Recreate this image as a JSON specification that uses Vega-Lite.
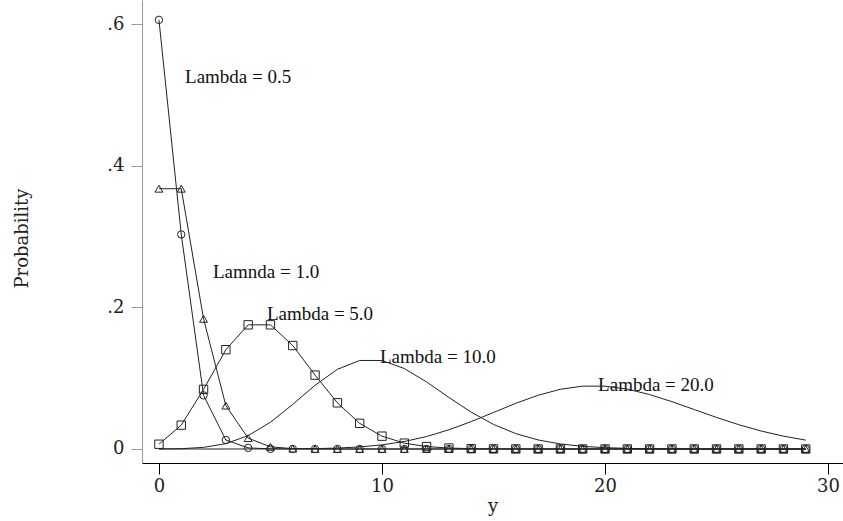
{
  "$schema": "https://vega.github.io/schema/vega-lite/v6.json",
  "width": 701,
  "height": 463,
  "autosize": {"type": "none"},
  "padding": {"left": 142, "top": 0, "right": 0, "bottom": 58},
  "background": "white",
  "view": {"stroke": null},
  "config": {
    "axis": {"grid": false, "labelFont": "DejaVu Serif", "titleFont": "DejaVu Serif", "labelFontSize": 18, "titleFontSize": 18, "titleFontWeight": "normal", "labelColor": "#222", "titleColor": "#222"}
  },
  "datasets": {
    "pois": [
      {"y": 0, "l05": 0.606531, "l1": 0.367879, "l5": 0.006738, "l10": 0.0000454, "l20": 0},
      {"y": 1, "l05": 0.303265, "l1": 0.367879, "l5": 0.033690, "l10": 0.000454, "l20": 0},
      {"y": 2, "l05": 0.075816, "l1": 0.183940, "l5": 0.084224, "l10": 0.002270, "l20": 0},
      {"y": 3, "l05": 0.012636, "l1": 0.061313, "l5": 0.140374, "l10": 0.007567, "l20": 0.000003},
      {"y": 4, "l05": 0.001580, "l1": 0.015328, "l5": 0.175467, "l10": 0.018917, "l20": 0.000014},
      {"y": 5, "l05": 0.000158, "l1": 0.003066, "l5": 0.175467, "l10": 0.037833, "l20": 0.000055},
      {"y": 6, "l05": 0.000013, "l1": 0.000511, "l5": 0.146223, "l10": 0.063055, "l20": 0.000183},
      {"y": 7, "l05": 0.000001, "l1": 0.000073, "l5": 0.104445, "l10": 0.090079, "l20": 0.000523},
      {"y": 8, "l05": 0, "l1": 0.000009, "l5": 0.065278, "l10": 0.112599, "l20": 0.001309},
      {"y": 9, "l05": 0, "l1": 0.000001, "l5": 0.036266, "l10": 0.125110, "l20": 0.002908},
      {"y": 10, "l05": 0, "l1": 0, "l5": 0.018133, "l10": 0.125110, "l20": 0.005816},
      {"y": 11, "l05": 0, "l1": 0, "l5": 0.008242, "l10": 0.113736, "l20": 0.010575},
      {"y": 12, "l05": 0, "l1": 0, "l5": 0.003434, "l10": 0.094780, "l20": 0.017625},
      {"y": 13, "l05": 0, "l1": 0, "l5": 0.001321, "l10": 0.072908, "l20": 0.027116},
      {"y": 14, "l05": 0, "l1": 0, "l5": 0.000472, "l10": 0.052077, "l20": 0.038737},
      {"y": 15, "l05": 0, "l1": 0, "l5": 0.000157, "l10": 0.034718, "l20": 0.051649},
      {"y": 16, "l05": 0, "l1": 0, "l5": 0.000049, "l10": 0.021699, "l20": 0.064561},
      {"y": 17, "l05": 0, "l1": 0, "l5": 0.000014, "l10": 0.012764, "l20": 0.075954},
      {"y": 18, "l05": 0, "l1": 0, "l5": 0.000004, "l10": 0.007091, "l20": 0.084394},
      {"y": 19, "l05": 0, "l1": 0, "l5": 0.000001, "l10": 0.003732, "l20": 0.088835},
      {"y": 20, "l05": 0, "l1": 0, "l5": 0, "l10": 0.001866, "l20": 0.088835},
      {"y": 21, "l05": 0, "l1": 0, "l5": 0, "l10": 0.000889, "l20": 0.084605},
      {"y": 22, "l05": 0, "l1": 0, "l5": 0, "l10": 0.000404, "l20": 0.076914},
      {"y": 23, "l05": 0, "l1": 0, "l5": 0, "l10": 0.000176, "l20": 0.066882},
      {"y": 24, "l05": 0, "l1": 0, "l5": 0, "l10": 0.000073, "l20": 0.055735},
      {"y": 25, "l05": 0, "l1": 0, "l5": 0, "l10": 0.000029, "l20": 0.044588},
      {"y": 26, "l05": 0, "l1": 0, "l5": 0, "l10": 0.000011, "l20": 0.034298},
      {"y": 27, "l05": 0, "l1": 0, "l5": 0, "l10": 0.000004, "l20": 0.025406},
      {"y": 28, "l05": 0, "l1": 0, "l5": 0, "l10": 0.000002, "l20": 0.018147},
      {"y": 29, "l05": 0, "l1": 0, "l5": 0, "l10": 0.000001, "l20": 0.012515}
    ],
    "labels": [
      {"label": "Lambda = 0.5", "x": 1.17, "p": 0.5258},
      {"label": "Lamnda = 1.0", "x": 2.42, "p": 0.2502},
      {"label": "Lambda = 5.0", "x": 4.84, "p": 0.1908},
      {"label": "Lambda = 10.0", "x": 9.91, "p": 0.1300},
      {"label": "Lambda = 20.0", "x": 19.69, "p": 0.0905}
    ]
  },
  "layer": [
    {
      "data": {"name": "labels"},
      "mark": {"type": "text", "align": "left", "baseline": "middle", "font": "Liberation Serif", "fontSize": 19, "color": "#111"},
      "encoding": {
        "x": {"field": "x", "type": "quantitative", "scale": {"domain": [-0.76, 30.67], "nice": false, "zero": false},
          "axis": {"values": [0, 10, 20, 30], "title": "y", "domainColor": "#000", "tickColor": "#000", "tickSize": 11, "labelPadding": 3, "titlePadding": 2}},
        "y": {"field": "p", "type": "quantitative", "scale": {"domain": [-0.0198, 0.6346], "nice": false, "zero": false},
          "axis": {"values": [0, 0.2, 0.4, 0.6], "title": "Probability", "labelExpr": "datum.value == 0 ? '0' : replace(format(datum.value, '.1f'), '0.', '.')", "domainColor": "#999", "tickColor": "#999", "tickSize": 11, "labelPadding": 7, "titleX": -120, "titleY": 238, "titleAngle": -90, "titleBaseline": "middle", "titleAlign": "center"}},
        "text": {"field": "label"}
      }
    },
    {
      "data": {"name": "pois"},
      "transform": [{"fold": ["l05", "l1", "l5", "l10", "l20"], "as": ["lam", "prob"]}],
      "mark": {"type": "line", "color": "#222", "strokeWidth": 1},
      "encoding": {
        "x": {"field": "y", "type": "quantitative"},
        "y": {"field": "prob", "type": "quantitative"},
        "detail": {"field": "lam"}
      }
    },
    {
      "data": {"name": "pois"},
      "transform": [
        {"fold": ["l05", "l1", "l5"], "as": ["lam", "prob"]}
      ],
      "mark": {"type": "point", "filled": false, "color": "#222", "strokeWidth": 1, "opacity": 1},
      "encoding": {
        "x": {"field": "y", "type": "quantitative"},
        "y": {"field": "prob", "type": "quantitative"},
        "shape": {"field": "lam", "type": "nominal", "scale": {"domain": ["l05", "l1", "l5"], "range": ["circle", "triangle-up", "square"]}, "legend": null},
        "size": {"field": "lam", "type": "nominal", "scale": {"domain": ["l05", "l1", "l5"], "range": [55, 70, 95]}, "legend": null}
      }
    }
  ]
}
